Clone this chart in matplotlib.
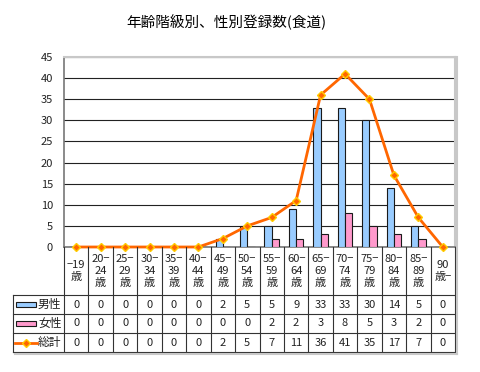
import matplotlib
matplotlib.use("Agg")
import matplotlib.pyplot as plt
import matplotlib.transforms as mtransforms
from matplotlib.lines import Line2D
from matplotlib.patches import Rectangle
import numpy as np

plt.rcParams['font.family'] = ['Noto Sans CJK JP', 'DejaVu Sans']

# data
categories = ["−19\n歳", "20−\n24\n歳", "25−\n29\n歳", "30−\n34\n歳", "35−\n39\n歳",
              "40−\n44\n歳", "45−\n49\n歳", "50−\n54\n歳", "55−\n59\n歳", "60−\n64\n歳",
              "65−\n69\n歳", "70−\n74\n歳", "75−\n79\n歳", "80−\n84\n歳", "85−\n89\n歳",
              "90\n歳−"]
male = [0, 0, 0, 0, 0, 0, 2, 5, 5, 9, 33, 33, 30, 14, 5, 0]
female = [0, 0, 0, 0, 0, 0, 0, 0, 2, 2, 3, 8, 5, 3, 2, 0]
total = [0, 0, 0, 0, 0, 0, 2, 5, 7, 11, 36, 41, 35, 17, 7, 0]
series_names = ["男性", "女性", "総計"]
title = "年齢階級別、性別登録数(食道)"

W, H = 480, 372
fig = plt.figure(figsize=(W / 100, H / 100), dpi=100)


def fx(px):
    return px / W


def fy(py):
    return 1 - py / H


left, right, top, bottom = 64, 455, 57, 247
ax = fig.add_axes([fx(left), fy(bottom), fx(right - left), (bottom - top) / H])

x = np.arange(len(categories))
bw = 0.3
ax.bar(x - bw / 2, male, bw, color="#99CCFF", edgecolor="#1a1a1a", linewidth=0.8, zorder=3)
ax.bar(x + bw / 2, female, bw, color="#FF99CC", edgecolor="#1a1a1a", linewidth=0.8, zorder=3)
ax.plot(x, total, color="#FF6600", lw=2, marker="D", ms=4, mfc="#FF6600",
        mec="#FFCC00", mew=1, zorder=4, clip_on=False)

ax.set_xlim(-0.5, len(categories) - 0.5)
ax.set_ylim(0, 45)
ax.set_yticks(range(0, 46, 5))
ax.yaxis.grid(True, color="#222222", lw=0.8)
ax.set_axisbelow(True)
ax.set_xticks([])
ax.tick_params(axis="y", length=0, pad=8, labelsize=8, labelcolor="#222222")
for s in ["top", "right"]:
    ax.spines[s].set_color("#c8c8c8")
    ax.spines[s].set_linewidth(1.5)
for s in ["left", "bottom"]:
    ax.spines[s].set_color("#777777")
    ax.spines[s].set_linewidth(1.2)

fig.text(fx(226), fy(22), title, ha="center", va="center", fontsize=10.5)

# table drawn below the axes, x in data coords, y in figure coords
blend = mtransforms.blended_transform_factory(ax.transData, fig.transFigure)
rows_y = [295, 314, 333, 352]
tab_left = 13
lc = "#333333"

# vertical column lines
for b in np.arange(-0.5, len(categories) + 0.5, 1):
    fig.add_artist(Line2D([b, b], [fy(bottom), fy(rows_y[-1])], transform=blend,
                          color=lc, lw=0.8))
# horizontal row lines
for yy in rows_y:
    fig.add_artist(Line2D([fx(tab_left), fx(right)], [fy(yy), fy(yy)],
                          transform=fig.transFigure, color=lc, lw=0.8))
fig.add_artist(Line2D([fx(tab_left), fx(tab_left)], [fy(rows_y[0]), fy(rows_y[-1])],
                      transform=fig.transFigure, color=lc, lw=0.8))
# shadow
fig.add_artist(Line2D([fx(right + 1.5), fx(right + 1.5)], [fy(top), fy(rows_y[-1] + 1.5)],
                      transform=fig.transFigure, color="#c8c8c8", lw=1.5))
fig.add_artist(Line2D([fx(tab_left + 2), fx(right + 1.5)], [fy(rows_y[-1] + 1.5), fy(rows_y[-1] + 1.5)],
                      transform=fig.transFigure, color="#c8c8c8", lw=1.5))

# category labels
for i, lab in enumerate(categories):
    fig.text(i, fy((bottom + rows_y[0]) / 2), lab, transform=blend, ha="center",
             va="center", fontsize=8, linespacing=1.2, color="#222222")

# value rows
for r, vals in enumerate([male, female, total]):
    yc = fy((rows_y[r] + rows_y[r + 1]) / 2)
    for i, v in enumerate(vals):
        fig.text(i, yc, str(v), transform=blend, ha="center", va="center",
                 fontsize=8, color="#222222")

# legend keys in the table
for r, name in enumerate(series_names):
    yc = (rows_y[r] + rows_y[r + 1]) / 2
    if r < 2:
        col = ["#99CCFF", "#FF99CC"][r]
        fig.add_artist(Rectangle((fx(16), fy(yc + 2.5)), fx(20), 5 / H, transform=fig.transFigure,
                                 facecolor=col, edgecolor="#1a1a1a", lw=0.8))
    else:
        fig.add_artist(Line2D([fx(15), fx(37)], [fy(yc), fy(yc)], transform=fig.transFigure,
                              color="#FF6600", lw=2))
        fig.add_artist(Line2D([fx(26)], [fy(yc)], transform=fig.transFigure, marker="D",
                              ms=4, mfc="#FF6600", mec="#FFCC00", mew=1))
    fig.text(fx(38), fy(yc), name, ha="left", va="center", fontsize=8.5, color="#222222")

fig.savefig("out.png", dpi=100)
